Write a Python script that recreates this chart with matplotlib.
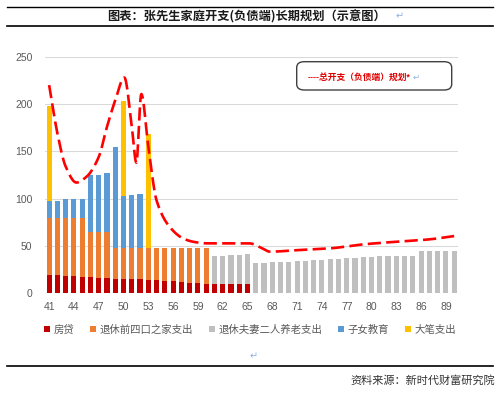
import numpy as np
import matplotlib
matplotlib.use("Agg")
import matplotlib.pyplot as plt
from matplotlib.patches import Patch, FancyBboxPatch
from matplotlib.lines import Line2D

plt.rcParams['font.family'] = ['Liberation Sans', 'Noto Sans CJK SC', 'DejaVu Sans']

# ---------------- data ----------------
ages = list(range(41, 91))
tick_ages = list(range(41, 91, 3))

mortgage = [19.5, 19.5, 18.5, 18.3, 17.7, 17.6, 16.6, 16.5, 15.6, 15.5,
            14.9, 14.8, 14.1, 13.6, 13.5, 13.0, 12.0, 11.4, 10.6, 10.3,
            9.5, 9.5, 9.5, 9.5, 9.5] + [0] * 25
family4 = [60.5, 60.5, 61.5, 61.7, 62.3, 46.8, 47.8, 47.9, 32.6, 32.7,
           33.3, 33.4, 34.1, 34.6, 34.7, 35.2, 36.2, 36.8, 37.6, 37.9] + [0] * 30
couple = [0] * 20 + [29.9, 30.3, 31.0, 31.3, 32.4,
                     31.7, 32.4, 32.7, 33.4, 33.4, 34.1, 34.1, 35.2, 35.2, 36.2,
                     36.2, 37.0, 37.0, 38.0, 38.0, 39.4, 39.4, 39.4, 39.4, 39.4,
                     44.4, 44.4, 44.4, 44.4, 44.4]
education = [17.5, 17.0, 20.0, 20.0, 20.0, 60.6, 60.6, 62.4, 106.7, 54.6,
             55.7, 56.7] + [0] * 38
bigspend = [100.4] + [0] * 8 + [100.4] + [0] * 2 + [120.1] + [0] * 37

# total-spending schematic curve (knots)
curve_ages = [41, 42, 43, 44.3, 45.5, 47, 48, 49, 50.1, 51, 51.55, 52.15, 53,
              54, 55.6, 57.2, 58.4, 60, 65.2, 66.8, 67.7, 71.2, 75, 79, 83, 87, 90]
curve_vals = [220, 169, 134, 117, 123, 144, 176, 204, 228, 176, 138, 210.6, 155,
              98, 70, 58, 54.5, 52.8, 52.8, 47.5, 44, 45.7, 47.5, 51.7, 54.5, 57, 60.5]

series = [("房贷", mortgage, "#C00000"),
          ("退休前四口之家支出", family4, "#ED7D31"),
          ("退休夫妻二人养老支出", couple, "#BFBFBF"),
          ("子女教育", education, "#5B9BD5"),
          ("大笔支出", bigspend, "#FFC000")]

title = "图表：张先生家庭开支(负债端)长期规划（示意图）"
box_label = "----总开支（负债端）规划*"
source = "资料来源：新时代财富研究院"


def pchip(x, y, xn):
    x = np.asarray(x, float); y = np.asarray(y, float)
    h = np.diff(x); d = np.diff(y) / h
    m = np.zeros_like(y)
    m[0] = d[0]; m[-1] = d[-1]
    for k in range(1, len(x) - 1):
        if d[k - 1] * d[k] <= 0:
            m[k] = 0
        else:
            w1 = 2 * h[k] + h[k - 1]; w2 = h[k] + 2 * h[k - 1]
            m[k] = (w1 + w2) / (w1 / d[k - 1] + w2 / d[k])
    idx = np.clip(np.searchsorted(x, xn) - 1, 0, len(x) - 2)
    t = (xn - x[idx]) / h[idx]
    h00 = 2 * t**3 - 3 * t**2 + 1; h10 = t**3 - 2 * t**2 + t
    h01 = -2 * t**3 + 3 * t**2; h11 = t**3 - t**2
    return h00 * y[idx] + h10 * h[idx] * m[idx] + h01 * y[idx + 1] + h11 * h[idx] * m[idx + 1]


# ---------------- figure ----------------
fig = plt.figure(figsize=(5, 3.93), dpi=100)
W, H = 500, 393
ax = fig.add_axes([45 / W, 1 - 293.3 / H, 413.3 / W, (293.3 - 56.7) / H])

bottom = np.zeros(len(ages))
for name, vals, col in series:
    v = np.asarray(vals, float)
    ax.bar(ages, v, width=0.62, bottom=bottom, color=col, label=name, zorder=2)
    bottom += v

xs = np.linspace(curve_ages[0], curve_ages[-1], 800)
ax.plot(xs, pchip(curve_ages, curve_vals, xs), color="#FF0000", lw=1.9,
        dashes=(5, 2), zorder=3, dash_capstyle='butt')

ax.set_xlim(40.5, 90.5)
ax.set_ylim(0, 250)
ax.set_yticks([0, 50, 100, 150, 200, 250])
ax.set_xticks(tick_ages)
ax.grid(axis='y', color="#D9D9D9", lw=0.75, zorder=0)
ax.set_axisbelow(True)
for s in ax.spines.values():
    s.set_visible(False)
ax.tick_params(length=0, labelsize=7.5, labelcolor="#595959")
ax.tick_params(axis='y', pad=9)
ax.tick_params(axis='x', pad=6)

handles = [Patch(facecolor=c, edgecolor='none', label=n) for n, _, c in series]
leg = fig.legend(handles=handles, loc='center', bbox_to_anchor=(0.5, 1 - 329.5 / H),
                 ncol=5, frameon=False, fontsize=7.5, handlelength=0.6, handleheight=0.6,
                 handletextpad=0.35, columnspacing=1.5, borderaxespad=0)
for t in leg.get_texts():
    t.set_color("#595959")

# text box for the curve
box = FancyBboxPatch((296.7 / W, 1 - 90 / H), (451.7 - 296.7) / W, (90 - 61.7) / H,
                     boxstyle="round,pad=0,rounding_size=0.015", transform=fig.transFigure,
                     facecolor='white', edgecolor="#404040", lw=1.0, zorder=5)
fig.patches.append(box)
fig.text(307.7 / W, 1 - 77 / H, box_label, color="#E00000", fontsize=6.3, fontweight='bold',
         ha='left', va='center', zorder=6)
fig.text(413 / W, 1 - 77 / H, "↵", color="#8DB3E2", fontsize=6, ha='left', va='center',
         family=['DejaVu Sans'], zorder=6)

# title and rules
fig.text(247 / W, 1 - 16.5 / H, title, fontsize=8.8, fontweight='bold', ha='center',
         va='center', color="#1a1a1a", family=['Noto Sans CJK SC', 'DejaVu Sans'])
fig.text(396 / W, 1 - 16.5 / H, "↵", fontsize=7, color="#8DB3E2", ha='left', va='center',
         family=['DejaVu Sans'])
for yy, lw in [(6.7, 1.0), (26, 1.2), (366, 1.2)]:
    fig.add_artist(Line2D([7 / W, 493 / W], [1 - yy / H, 1 - yy / H], color='black', lw=lw,
                          transform=fig.transFigure))
fig.text(254 / W, 1 - 356 / H, "↵", fontsize=7, color="#8DB3E2", ha='center', va='center',
         family=['DejaVu Sans'])
fig.text(495 / W, 1 - 380 / H, source, fontsize=8, ha='right', va='center', color="#333333",
         family=['Noto Sans CJK SC', 'DejaVu Sans'])

fig.savefig("out.png", dpi=100)
